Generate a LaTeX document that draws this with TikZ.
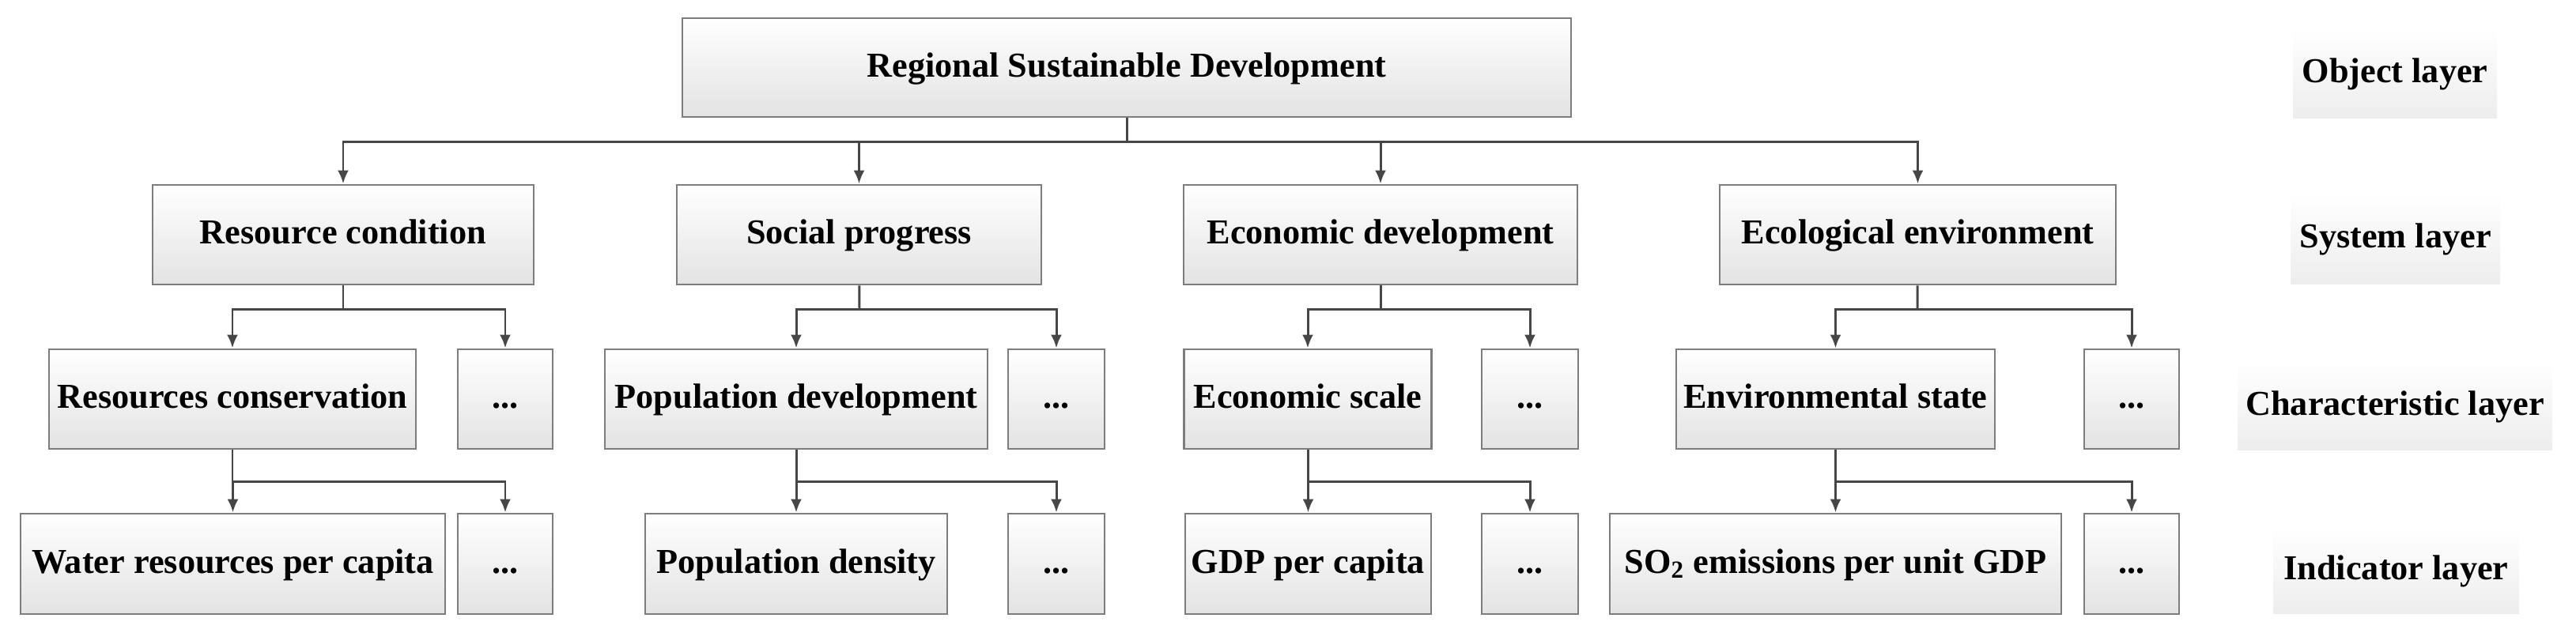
\documentclass[tikz,border=0pt]{standalone}
\usepackage{fontspec}
\setmainfont{Liberation Serif}
\usepackage{tikz}
\usetikzlibrary{arrows.meta, positioning}
\definecolor{boxgray}{RGB}{125,125,125}
\definecolor{wiregray}{RGB}{70,70,70}
\tikzstyle{block} = [draw=boxgray, rectangle, line width=0.8pt, minimum height=1.26cm, inner sep=0pt, text height=0.66em, text depth=0em, align=center, top color=white, bottom color=black!11, font=\fontsize{12.6}{14}\selectfont\bfseries]
\tikzstyle{layer} = [rectangle, inner sep=0pt, text height=0.66em, text depth=0em, align=center, top color=white, bottom color=black!7, font=\fontsize{12.6}{14}\selectfont\bfseries]
\tikzstyle{wire} = [-{Latex[length=1.7mm,width=1.4mm]}, line width=0.85pt, draw=wiregray]
\tikzstyle{line} = [line width=0.85pt, draw=wiregray]
\begin{document}
\begin{tikzpicture}
    \useasboundingbox (0,0) rectangle (32.58,-8.01);
    % object layer
    \node[block, minimum width=11.24cm, minimum height=1.25cm] (rsd) at (14.25,-0.855) {Regional Sustainable Development};
    % system layer
    \node[block, minimum width=4.82cm] (res) at (4.34,-2.97) {Resource condition};
    \node[block, minimum width=4.61cm] (soc) at (10.865,-2.97) {Social progress};
    \node[block, minimum width=4.98cm] (eco) at (17.46,-2.97) {Economic development};
    \node[block, minimum width=5.01cm] (env) at (24.255,-2.97) {Ecological environment};
    % characteristic layer
    \node[block, minimum width=4.64cm] (rcons) at (2.94,-5.05) {Resources conservation};
    \node[block, minimum width=1.2cm] (dotsa) at (6.39,-5.05) {...};
    \node[block, minimum width=4.84cm] (popdev) at (10.07,-5.05) {Population development};
    \node[block, minimum width=1.22cm] (dotsb) at (13.36,-5.05) {...};
    \node[block, minimum width=3.13cm] (escale) at (16.54,-5.05) {Economic scale};
    \node[block, minimum width=1.22cm] (dotsc) at (19.35,-5.05) {...};
    \node[block, minimum width=4.03cm] (envst) at (23.215,-5.05) {Environmental state};
    \node[block, minimum width=1.2cm] (dotsd) at (26.96,-5.05) {...};
    % indicator layer
    \node[block, minimum width=5.37cm, minimum height=1.27cm] (water) at (2.945,-7.135) {Water resources per capita};
    \node[block, minimum width=1.2cm, minimum height=1.27cm] (dotse) at (6.39,-7.135) {...};
    \node[block, minimum width=3.82cm, minimum height=1.27cm] (popden) at (10.07,-7.135) {Population density};
    \node[block, minimum width=1.22cm, minimum height=1.27cm] (dotsf) at (13.36,-7.135) {...};
    \node[block, minimum width=3.11cm, minimum height=1.27cm] (gdp) at (16.545,-7.135) {GDP per capita};
    \node[block, minimum width=1.22cm, minimum height=1.27cm] (dotsg) at (19.35,-7.135) {...};
    \node[block, minimum width=5.71cm, minimum height=1.27cm] (so2) at (23.215,-7.135) {SO\textsubscript{2} emissions per unit GDP};
    \node[block, minimum width=1.2cm, minimum height=1.27cm] (dotsh) at (26.96,-7.135) {...};
    % layer names
    \node[layer, minimum width=2.58cm, minimum height=1.15cm] (lobj) at (30.29,-0.925) {Object layer};
    \node[layer, minimum width=2.65cm, minimum height=1.17cm] (lsys) at (30.295,-3.015) {System layer};
    \node[layer, minimum width=3.98cm, minimum height=1.13cm] (lchar) at (30.29,-5.135) {Characteristic layer};
    \node[layer, minimum width=3.11cm, minimum height=1.1cm] (lind) at (30.305,-7.22) {Indicator layer};
    % junctions
    \coordinate (j0) at (14.25,-1.80);
    \coordinate (ja) at (4.34,-3.92);
    \coordinate (jb) at (10.87,-3.92);
    \coordinate (jc) at (17.46,-3.92);
    \coordinate (jd) at (24.25,-3.92);
    \coordinate (ka) at (2.94,-6.10);
    \coordinate (kb) at (10.07,-6.10);
    \coordinate (kc) at (16.54,-6.10);
    \coordinate (kd) at (23.215,-6.10);
    % connectors
    \draw[line] (rsd) -- (j0);
    \draw[wire] (j0) -| (res);
    \draw[wire] (j0) -| (soc);
    \draw[wire] (j0) -| (eco);
    \draw[wire] (j0) -| (env);
    \draw[line] (res) -- (ja);
    \draw[wire] (ja) -| (rcons);
    \draw[wire] (ja) -| (dotsa);
    \draw[line] (soc) -- (jb);
    \draw[wire] (jb) -| (popdev);
    \draw[wire] (jb) -| (dotsb);
    \draw[line] (eco) -- (jc);
    \draw[wire] (jc) -| (escale);
    \draw[wire] (jc) -| (dotsc);
    \draw[line] (env) -- (jd);
    \draw[wire] (jd) -| (envst);
    \draw[wire] (jd) -| (dotsd);
    \draw[line] (rcons) -- (ka);
    \draw[wire] (ka) -| (water);
    \draw[wire] (ka) -| (dotse);
    \draw[line] (popdev) -- (kb);
    \draw[wire] (kb) -| (popden);
    \draw[wire] (kb) -| (dotsf);
    \draw[line] (escale) -- (kc);
    \draw[wire] (kc) -| (gdp);
    \draw[wire] (kc) -| (dotsg);
    \draw[line] (envst) -- (kd);
    \draw[wire] (kd) -| (so2);
    \draw[wire] (kd) -| (dotsh);
  \end{tikzpicture}
\end{document}
